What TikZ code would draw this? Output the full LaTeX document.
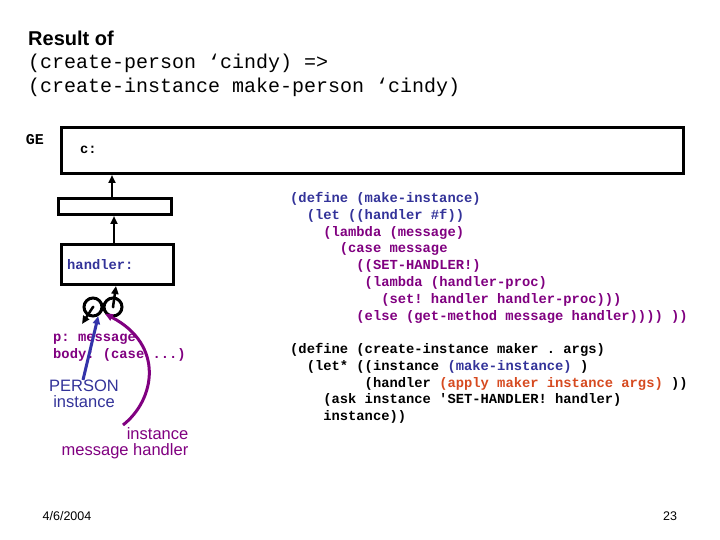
\documentclass[tikz,border=0pt]{standalone}
\usepackage{fontspec}
\setmainfont{Liberation Sans}
\newfontfamily\codefont{Liberation Mono}
\usetikzlibrary{arrows.meta,positioning}
\definecolor{envnavy}{RGB}{51,51,153}
\definecolor{procpurple}{RGB}{128,0,128}
\definecolor{applyorange}{RGB}{214,74,32}
\definecolor{instblue}{RGB}{51,51,170}
\newcommand{\cind}[1]{\hspace*{#1\fontcharwd\font`x}}
\tikzset{
  envbox/.style={draw=black, line width=3pt, inner sep=0pt},
  code/.style={font=\codefont\bfseries\fontsize{13.8}{16.8}\selectfont\frenchspacing,
               inner sep=0pt, align=left},
  callfont/.style={font=\codefont\fontsize{20}{24}\selectfont\frenchspacing,
                   inner sep=0pt, align=left},
  ptr/.style={-{Triangle[length=8pt,width=7pt]}, line width=2.5pt},
  bubble/.style={circle, draw=black, line width=3pt, minimum size=18pt, inner sep=0pt},
  lab/.style={font=\fontsize{16.5}{16}\selectfont, inner sep=0pt, align=center},
  foot/.style={font=\fontsize{12.5}{14}\selectfont, inner sep=0pt},
}

\begin{document}
\begin{tikzpicture}[x=1pt,y=-1pt]
  \useasboundingbox (0,0) rectangle (720,540);

  % Title.
  \node[font=\bfseries\fontsize{20}{24}\selectfont, anchor=base west, inner sep=0pt]
    (head) at (28,46) {Result of};
  \node[callfont, anchor=north west] (call) at (28,54)
    {(create-person ‘cindy) =>\\(create-instance make-person ‘cindy)};

  % Environment frames.
  \node[envbox, minimum width=622pt, minimum height=46pt] (ge) at (372.5,150.5) {};
  \node[code, font=\codefont\bfseries\fontsize{15}{16}\selectfont, anchor=east]
    (gename) at (44,140) {GE};
  \node[code, anchor=west] (cvar) at (80,150) {c:};
  \node[envbox, minimum width=113pt, minimum height=16pt] (mid) at (115,206.5) {};
  \node[envbox, minimum width=112pt, minimum height=40pt] (inst) at (117.5,264.5) {};
  \node[code, text=envnavy, anchor=west] (hvar) at (67,265) {handler:};
  \draw[ptr] ([xshift=-3pt]mid.north) -- ([xshift=-3pt]mid.north |- ge.south);
  \draw[ptr] ([xshift=-3.5pt]inst.north) -- ([xshift=-3.5pt]inst.north |- mid.south);

  % Procedure object.
  \node[bubble] (lc) at (93,307) {};
  \node[bubble] (rc) at (113,307) {};
  \fill (lc.center) circle (1.5pt);
  \fill (rc.center) circle (1.5pt);
  \coordinate (ptail) at (82,324);
  \draw[ptr] (lc.center) -- (ptail);
  \draw[ptr] (rc.center) -- ([xshift=-1.5pt]inst.south);
  \node[code, text=procpurple, anchor=north west] (pbody) at (53,334)
    {p: message\\body: (case ...)};

  % Pointer labels.
  \node[lab, text=envnavy] (pin) at (84,394) {PERSON\\instance};
  \draw[-{Triangle[length=8pt,width=7pt]}, instblue, line width=3pt]
    ([xshift=-1pt]pin.north) -- (lc.-60);
  \node[lab, text=procpurple, align=right] (mh) at (125,443)
    {instance\\message handler};
  \coordinate (mhtail) at (123,425);
  \draw[-{Triangle[length=8pt,width=7pt]}, procpurple, line width=3pt]
    (mhtail) .. controls (155,400) and (165,345) .. (rc.-140);

  % Scheme code.
  \node[code, text=procpurple, anchor=north west] (mkinst) at (290,192)
    {\textcolor{envnavy}{(define (make-instance)}\\
     \cind{2}\textcolor{envnavy}{(let ((handler \#f))}\\
     \cind{4}(lambda (message)\\
     \cind{6}(case message\\
     \cind{8}((SET-HANDLER!)\\
     \cind{9}(lambda (handler-proc)\\
     \cind{11}(set! handler handler-proc)))\\
     \cind{8}(else (get-method message handler)))) ))};
  \node[code, anchor=north west] (crinst) at (290,343)
    {(define (create-instance maker . args)\\
     \cind{2}(let* ((instance \textcolor{envnavy}{(make-instance)} )\\
     \cind{9}(handler \textcolor{applyorange}{(apply maker instance args)} ))\\
     \cind{4}(ask instance \textquotesingle SET-HANDLER! handler)\\
     \cind{4}instance))};

  % Footer.
  \node[foot] (date) at (67,516) {4/6/2004};
  \node[foot] (page) at (670,516) {23};
\end{tikzpicture}
\end{document}
